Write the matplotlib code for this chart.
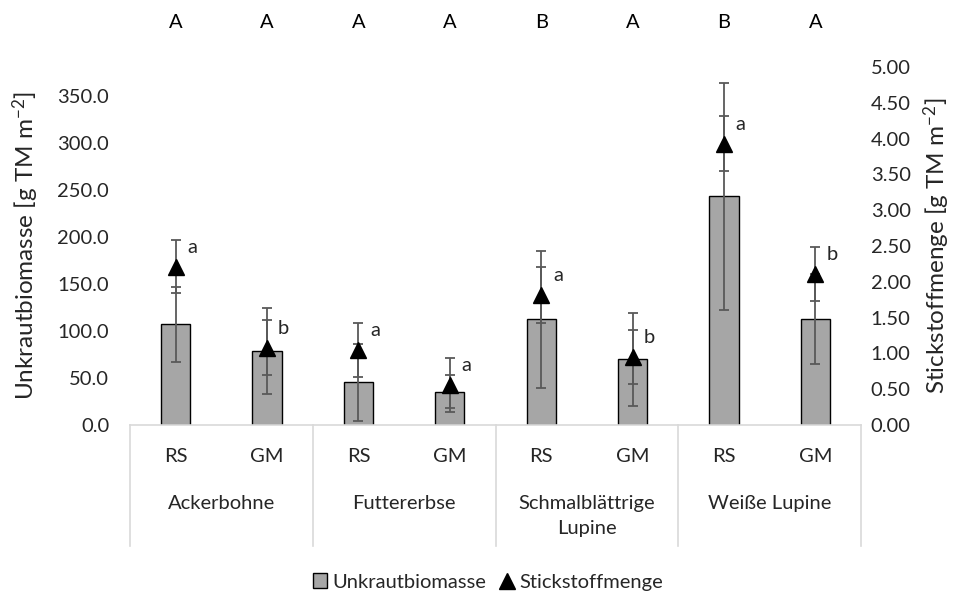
import matplotlib
matplotlib.use("Agg")
import matplotlib.pyplot as plt
import matplotlib.transforms as mtransforms
from matplotlib.lines import Line2D
from matplotlib.patches import Patch
import numpy as np

plt.rcParams['font.family'] = ['Lato', 'DejaVu Sans']
plt.rcParams['mathtext.default'] = 'regular'

groups = ["Ackerbohne", "Futtererbse", "Schmalblättrige\nLupine", "Weiße Lupine"]
subcats = ["RS", "GM", "RS", "GM", "RS", "GM", "RS", "GM"]
biomass = [107.0, 78.5, 45.4, 35.4, 112.3, 70.1, 243.3, 112.9]
biomass_err = [39.5, 46.0, 40.8, 17.4, 72.5, 49.5, 121.0, 48.0]
nitrogen = [2.21, 1.08, 1.05, 0.56, 1.81, 0.95, 3.93, 2.11]
nitrogen_err = [0.37, 0.38, 0.38, 0.38, 0.39, 0.38, 0.38, 0.375]
n_letters = ["a", "b", "a", "a", "a", "b", "a", "b"]
top_letters = ["A", "A", "A", "A", "B", "A", "B", "A"]

W, H = 969, 598
fig = plt.figure(figsize=(W / 100, H / 100), dpi=100)
L, R, T, B = 130, 861, 67, 425
ax = fig.add_axes([L / W, 1 - B / H, (R - L) / W, (B - T) / H])
ax2 = ax.twinx()

FS = 14.5
TXT = "#262626"

x = np.arange(len(biomass))
ax.bar(x, biomass, width=0.32, color="#a6a6a6", edgecolor="black", linewidth=1.0, zorder=2)
ax.errorbar(x, biomass, yerr=biomass_err, fmt="none", ecolor="#595959",
            elinewidth=1.3, capsize=3.5, capthick=1.3, zorder=3)

ax2.errorbar(x, nitrogen, yerr=nitrogen_err, fmt="none", ecolor="#595959",
             elinewidth=1.3, capsize=3.5, capthick=1.3, zorder=3)
ax2.plot(x, nitrogen, linestyle="none", marker="^", color="black", markersize=12, zorder=4)
for xi, yi, lab in zip(x, nitrogen, n_letters):
    ax2.annotate(lab, (xi, yi), xytext=(12, 14), textcoords="offset points",
                 ha="center", va="center", fontsize=FS, color=TXT)

ax.set_xlim(-0.5, len(biomass) - 0.5)
ax.set_ylim(0, 350 * (B - T) / (B - 96))
ax2.set_ylim(0, 5)
ax.set_yticks(np.arange(0, 351, 50))
ax.set_yticklabels([f"{v:.1f}" for v in np.arange(0, 351, 50)])
ax2.set_yticks(np.arange(0, 5.01, 0.5))
ax2.set_yticklabels([f"{v:.2f}" for v in np.arange(0, 5.01, 0.5)])
for a in (ax, ax2):
    a.tick_params(axis="y", length=0, labelsize=FS, colors=TXT)
    for s in a.spines.values():
        s.set_visible(False)
ax.tick_params(axis="y", pad=15)
ax2.tick_params(axis="y", pad=7)
ax.set_xticks([])

ax.set_ylabel(r"Unkrautbiomasse [g TM m$^{-2}$]", fontsize=17.5, color=TXT, labelpad=12)
ax2.set_ylabel(r"Stickstoffmenge [g TM m$^{-2}$]", fontsize=17.5, color=TXT, labelpad=8)

trans = mtransforms.blended_transform_factory(ax.transData, ax.transAxes)
h_px = B - T
def ay(py):
    return (B - py) / h_px

grid_c = "#d9d9d9"
ax.plot([-0.5, len(biomass) - 0.5], [0, 0], transform=trans, color=grid_c, lw=1.2, clip_on=False)
for xd in [-0.5, 1.5, 3.5, 5.5, 7.5]:
    ax.plot([xd, xd], [0, ay(546)], transform=trans, color=grid_c, lw=1.2, clip_on=False)

for xi, lab in zip(x, subcats):
    ax.text(xi, ay(457), lab, transform=trans, ha="center", va="center", fontsize=FS, color=TXT)
for gi, g in enumerate(groups):
    ax.text(2 * gi + 0.5, ay(495), g, transform=trans, ha="center", va="top", fontsize=FS,
            color=TXT, linespacing=1.6)
for xi, lab in zip(x, top_letters):
    ax.text(xi, ay(22), lab, transform=trans, ha="center", va="center", fontsize=FS, color="black")

handles = [Patch(facecolor="#a6a6a6", edgecolor="black", linewidth=1.0),
           Line2D([], [], linestyle="none", marker="^", color="black", markersize=11)]
fig.legend(handles, ["Unkrautbiomasse", "Stickstoffmenge"], loc="center",
           bbox_to_anchor=(488 / W, 1 - 582 / H), ncol=2, frameon=False, fontsize=FS,
           handlelength=0.7, handletextpad=0.25, columnspacing=0.7, labelcolor=TXT)

fig.savefig("out.png", dpi=100)
